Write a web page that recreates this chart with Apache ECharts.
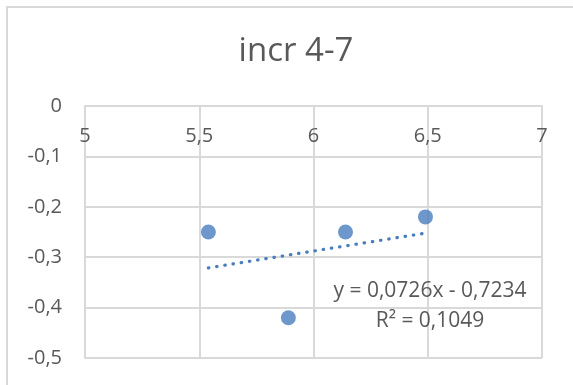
<!DOCTYPE html>
<html>
<head>
<meta charset="utf-8">
<script src="https://cdn.jsdelivr.net/npm/echarts@6/dist/echarts.min.js"></script>
<style>
  html, body { margin: 0; padding: 0; background: #ffffff; }
  #chart { width: 573px; height: 385px; }
</style>
</head>
<body>
<div id="chart"></div>
<script>
// Measured points (x, y)
const xValues = [5.54, 5.89, 6.14, 6.49];
const yValues = [-0.25, -0.42, -0.25, -0.22];

// Linear trendline as stated in the label
const trendSlope = 0.0726;
const trendIntercept = -0.7234;
const trendR2 = 0.1049;

// Axis ranges
const xTicks = [5, 5.5, 6, 6.5, 7];
const yTicks = [0, -0.1, -0.2, -0.3, -0.4, -0.5];

const FONT = 'Open Sans';
const TEXT = '#595959';
const GRID = '#d9d9d9';
const BLUE = '#4a7dbf';

const comma = v => String(v).replace('.', ',');

const points = xValues.map((x, i) => [x, yValues[i]]);
const xMinData = Math.min(...xValues);
const xMaxData = Math.max(...xValues);
const trendPoints = [xMinData, xMaxData].map(x => [x, trendSlope * x + trendIntercept]);

const eqText = 'y = ' + comma(trendSlope) + 'x - ' + comma(Math.abs(trendIntercept));
const r2Text = 'R² = ' + comma(trendR2);

const chart = echarts.init(document.getElementById('chart'), null, { renderer: 'canvas' });
chart.setOption({
  backgroundColor: '#ffffff',
  animation: false,
  title: {
    text: 'incr 4-7',
    left: 291,
    top: 30,
    textAlign: 'center',
    textStyle: { fontFamily: FONT, fontSize: 33, fontWeight: 'normal', color: TEXT }
  },
  grid: { left: 85, right: 31, top: 106, bottom: 27, containLabel: false, outerBoundsMode: 'none' },
  xAxis: {
    type: 'value',
    position: 'top',
    min: xTicks[0],
    max: xTicks[xTicks.length - 1],
    interval: 0.5,
    axisLine: { onZero: false, lineStyle: { color: GRID, width: 2 } },
    axisTick: { show: false },
    axisLabel: {
      inside: true,
      margin: 20,
      fontFamily: FONT, fontSize: 20, color: TEXT,
      formatter: v => comma(v)
    },
    splitLine: { show: true, lineStyle: { color: GRID, width: 2 } }
  },
  yAxis: {
    type: 'value',
    min: yTicks[yTicks.length - 1],
    max: yTicks[0],
    interval: 0.1,
    axisLine: { show: true, onZero: false, lineStyle: { color: GRID, width: 2 } },
    axisTick: { show: false },
    axisLabel: {
      margin: 23,
      fontFamily: FONT, fontSize: 20, color: TEXT,
      formatter: v => comma(Math.round(v * 10) / 10)
    },
    splitLine: { show: true, lineStyle: { color: GRID, width: 2 } }
  },
  series: [
    {
      type: 'line',
      data: trendPoints,
      symbol: 'none',
      silent: true,
      z: 2,
      lineStyle: { color: BLUE, width: 3.2, type: [0.5, 7.8], cap: 'round' }
    },
    {
      type: 'scatter',
      data: points,
      symbol: 'circle',
      symbolSize: 15,
      z: 3,
      itemStyle: { color: BLUE }
    }
  ],
  graphic: [
    {
      type: 'rect',
      shape: { x: 7, y: 7, width: 700, height: 500 },
      style: { fill: 'none', stroke: GRID, lineWidth: 2 },
      silent: true,
      z: -1
    },
    {
      type: 'text',
      x: 430, y: 291,
      style: { text: eqText, font: '21px "' + FONT + '"', fill: TEXT, align: 'center', verticalAlign: 'middle' },
      z: 10
    },
    {
      type: 'text',
      x: 430, y: 321,
      style: { text: r2Text, font: '21px "' + FONT + '"', fill: TEXT, align: 'center', verticalAlign: 'middle' },
      z: 10
    }
  ]
});
</script>
</body>
</html>
